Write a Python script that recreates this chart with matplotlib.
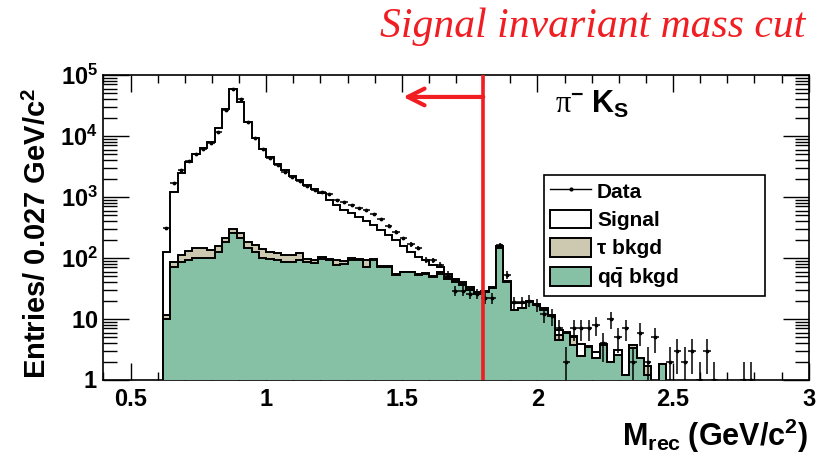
import numpy as np
import matplotlib
matplotlib.use("Agg")
import matplotlib.pyplot as plt
from matplotlib.lines import Line2D
from matplotlib.patches import Patch
from matplotlib.ticker import FixedLocator, FixedFormatter, MultipleLocator, LogLocator, NullFormatter

plt.rcParams['font.family'] = ['Liberation Sans', 'DejaVu Sans']
plt.rcParams['mathtext.fontset'] = 'custom'
plt.rcParams['mathtext.rm'] = 'Liberation Serif'
plt.rcParams['mathtext.it'] = 'Liberation Serif:italic'
plt.rcParams['mathtext.bf'] = 'Liberation Sans:bold'

# ---- binning ----
bin_start = 0.6185
bin_width = 0.0273
n_bins = 80

# ---- data (counts per bin) ----
data_counts = [310, 1700, 2760, 3900, 5000, 6100, 7700, 11700, 27000, 60000,
               40000, 16700, 9100, 6100, 4400, 3300, 2600, 2100, 1800, 1500,
               1300, 1230, 1100, 900, 840, 740, 665, 615, 520, 430,
               340, 270, 210, 167, 148, 93, 91, 78, 53, 29,
               29, 26, 26, 22, 22, 163, 53, 19, 19, 20,
               17, 12, 11, 7, 2, 7, 7, 7, 8, 4,
               10, 5, 7, 2, 6, 2, 5, 0, 2, 3,
               2, 3, 1, 3, 1, 0, 0, 0, 1, 1]

# ---- MC components (stacked: qq, tau, signal) ----
qq_bkgd = [10, 72, 85, 92, 101, 101, 101, 126, 186, 253,
           215, 144, 126, 101, 96, 92, 87, 85, 92, 87,
           82, 96, 92, 76, 80, 93, 93, 72, 93, 72,
           72, 53, 58, 58, 53, 54, 49, 55, 45, 40,
           36, 30, 26, 28, 32, 145, 40, 14, 15, 19,
           17, 14, 11, 4.6, 6, 3.7, 2.5, 3.5, 2.3, 3.8,
           2, 2.6, 1.2, 3.4, 2.3, 1.2, 0, 1.8, 0, 0,
           0, 0, 0, 0, 0, 0, 0, 0, 0, 0]
tau_bkgd = [1.5, 13, 27, 38, 43, 46, 34, 32, 29, 47,
            38, 42, 37, 39, 30, 31, 25, 27, 31, 10,
            11, 9, 6, 15, 10, 7, 5, 20, 5, 3,
            2, 2, 2, 2, 2, 2, 2, 3, 3, 3,
            2, 1, 1, 0.5, 0.5, 5, 0.5, 0, 0, 0,
            0, 0, 0, 0.9, 0, 1.3, 0, 0, 0, 0,
            0, 0, 0, 0.3, 0, 0.5, 0, 0, 0, 0,
            0, 0, 0, 0, 0, 0, 0, 0, 0, 0]
signal = [113, 1115, 2338, 3570, 4856, 6253, 7965, 13242, 27785, 59700,
          35747, 16514, 8937, 5960, 4474, 3327, 2648, 2118, 1777, 1483,
          1257, 1045, 792, 649, 525, 440, 377, 318, 252, 215,
          166, 145, 98, 67, 49, 37, 27, 14, 7, 2,
          2, 2, 1, 0.5, 0.5, 10, 1.5, 4, 3, 0.5,
          0.5, 1, 0.5, 1.1, 0.2, 0.2, 1.4, 0.1, 0.6, 0.1,
          0, 0.5, 0, 0, 0, 0, 0, 0, 0, 0,
          0, 0, 0, 0, 0, 0, 0, 0, 0, 0]

y_tick_vals = [1, 10, 100, 1000, 10000, 100000]
y_tick_labels = [r"$\mathbf{1}$", r"$\mathbf{10}$", r"$\mathbf{10^{2}}$",
                 r"$\mathbf{10^{3}}$", r"$\mathbf{10^{4}}$", r"$\mathbf{10^{5}}$"]
x_tick_vals = [0.5, 1.0, 1.5, 2.0, 2.5, 3.0]
x_tick_labels = ["0.5", "1", "1.5", "2", "2.5", "3"]
cut_value = 1.8

# ---- derived ----
edges = bin_start + bin_width * np.arange(n_bins + 1)
centers = 0.5 * (edges[:-1] + edges[1:])
qq = np.array(qq_bkgd, float)
tau = np.array(tau_bkgd, float)
sig = np.array(signal, float)
data = np.array(data_counts, float)
floor = 0.05
lvl_qq = np.maximum(qq, floor)
lvl_tau = np.maximum(qq + tau, floor)
lvl_tot = np.maximum(qq + tau + sig, floor)

W, H = 829, 457
fig = plt.figure(figsize=(W / 100, H / 100), dpi=100)
ax = fig.add_axes([103.5 / W, 1 - 380 / H, (808.7 - 103.5) / W, 305 / H])

green = '#86c1a5'
tan = '#cdc8b0'
red = '#f01e23'
ax.stairs(lvl_tot, edges, baseline=floor, fill=True, facecolor='white', edgecolor='none', zorder=1)
ax.stairs(lvl_tot, edges, baseline=floor, color='black', lw=1.4, zorder=2)
ax.stairs(lvl_tau, edges, baseline=floor, fill=True, facecolor=tan, edgecolor='none', zorder=3)
ax.stairs(lvl_tau, edges, baseline=floor, color='black', lw=1.4, zorder=4)
ax.stairs(lvl_qq, edges, baseline=floor, fill=True, facecolor=green, edgecolor='none', zorder=5)
ax.stairs(lvl_qq, edges, baseline=floor, color='black', lw=1.4, zorder=6)

m = data > 0
ax.errorbar(centers[m], data[m], xerr=bin_width / 2, yerr=np.sqrt(data[m]),
            fmt='.', color='black', ms=3.5, lw=1.1, capsize=0, zorder=8)

ax.axvline(cut_value, color=red, lw=2.6, zorder=9)
ax.annotate('', xy=(1.505, 0.928), xytext=(cut_value, 0.928),
            xycoords=('data', 'axes fraction'), textcoords=('data', 'axes fraction'),
            arrowprops=dict(arrowstyle='->', color=red, lw=3, mutation_scale=30,
                            shrinkA=0, shrinkB=0), zorder=10)

ax.set_xlim(0.4, 3.0)
ax.set_yscale('log')
ax.set_ylim(1, 1e5)
ax.xaxis.set_major_locator(FixedLocator(x_tick_vals))
ax.xaxis.set_major_formatter(FixedFormatter(x_tick_labels))
ax.xaxis.set_minor_locator(MultipleLocator(0.1))
ax.yaxis.set_major_locator(FixedLocator(y_tick_vals))
ax.yaxis.set_major_formatter(FixedFormatter(y_tick_labels))
ax.yaxis.set_minor_locator(LogLocator(base=10, subs=np.arange(2, 10)))
ax.yaxis.set_minor_formatter(NullFormatter())
ax.tick_params(axis='both', which='both', direction='in', top=True, right=True, width=1.0)
ax.tick_params(axis='x', which='major', length=12, labelsize=17, pad=6)
ax.tick_params(axis='x', which='minor', length=6)
ax.tick_params(axis='y', which='major', length=19, labelsize=17, pad=4)
ax.tick_params(axis='y', which='minor', length=10)
for lab in ax.get_xticklabels():
    lab.set_fontweight('bold')
for s in ax.spines.values():
    s.set_linewidth(1.2)

fig.text(38 / W, 1 - 233 / H, "Entries/ 0.027 GeV/c$^{\\mathbf{2}}$", rotation=90,
         fontsize=21, fontweight='bold', ha='center', va='center')
fig.text(808 / W, 1 - 436 / H, r"$\mathbf{M_{rec}\ (GeV/c^{2})}$", fontsize=22,
         ha='right', va='center')
fig.text(805 / W, 1 - 27 / H, "Signal invariant mass cut", color=red,
         family='Liberation Serif', style='italic', fontsize=30, ha='right', va='center')
fig.text(555 / W, 1 - 104 / H, r"$\mathrm{\pi}^{\mathbf{-}}\ \mathbf{K_S}$", fontsize=22,
         ha='left', va='center')

handles = [Line2D([], [], color='black', marker='.', ms=4, lw=1),
           Patch(facecolor='white', edgecolor='black', lw=1.4),
           Patch(facecolor=tan, edgecolor='black', lw=1.4),
           Patch(facecolor=green, edgecolor='black', lw=1.4)]
labels = ["Data", "Signal", "τ bkgd", r"$\mathbf{q\bar{q}}$ bkgd"]
leg = fig.legend(handles, labels, loc='upper left',
                 bbox_to_anchor=(544 / W, 1 - 293 / H, 221 / W, 118 / H),
                 bbox_transform=fig.transFigure, mode='expand', borderaxespad=0,
                 frameon=True, fancybox=False,
                 edgecolor='black', framealpha=1, borderpad=0.3, handlelength=1.95,
                 handleheight=1.0, labelspacing=0.38, handletextpad=0.3,
                 prop={'weight': 'bold', 'size': 15})
leg.get_frame().set_linewidth(1.2)

fig.savefig('out.png', dpi=100)
